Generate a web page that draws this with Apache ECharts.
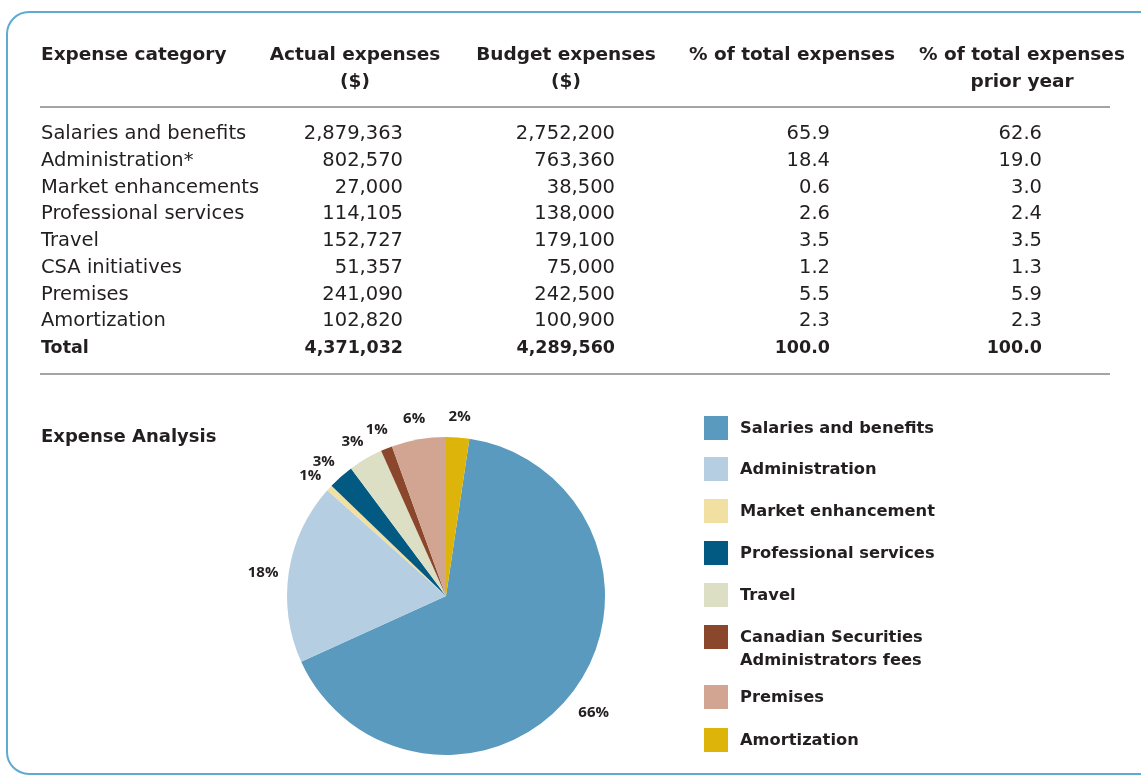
<!DOCTYPE html>
<html>
<head>
<meta charset="utf-8">
<script src="https://cdn.jsdelivr.net/npm/echarts@6/dist/echarts.min.js"></script>
<style>
  html, body { margin: 0; padding: 0; background: #ffffff; }
  #chart { width: 1141px; height: 776px; }
</style>
</head>
<body>
<div id="chart"></div>
<script>
// Expense table rows
const tableCategories = ['Salaries and benefits', 'Administration*', 'Market enhancements', 'Professional services', 'Travel', 'CSA initiatives', 'Premises', 'Amortization'];
const actualExpenses = [2879363, 802570, 27000, 114105, 152727, 51357, 241090, 102820];
const budgetExpenses = [2752200, 763360, 38500, 138000, 179100, 75000, 242500, 100900];
const pctOfTotal = ['65.9', '18.4', '0.6', '2.6', '3.5', '1.2', '5.5', '2.3'];
const pctPriorYear = ['62.6', '19.0', '3.0', '2.4', '3.5', '1.3', '5.9', '2.3'];
const pctTotals = ['100.0', '100.0'];

// Pie legend names (same order as the table rows)
const pieNames = ['Salaries and benefits', 'Administration', 'Market enhancement', 'Professional services', 'Travel', 'Canadian Securities\nAdministrators fees', 'Premises', 'Amortization'];
const pieColors = ['#5a9abf', '#b6cee1', '#f2dfa2', '#025a82', '#dcdfc4', '#8b472c', '#d1a592', '#ddb40a'];

const FONT = '"DejaVu Sans", "Open Sans", sans-serif';
const LABEL_FONT = '"Open Sans", sans-serif';
const INK = '#231f20';

function fmt(n) {
  return String(n).replace(/\B(?=(\d{3})+(?!\d))/g, ',');
}
const sum = a => a.reduce((s, v) => s + v, 0);

const graphic = [];
// rounded frame
graphic.push({
  type: 'rect', silent: true,
  shape: { x: 7, y: 12, width: 1160, height: 762, r: 22 },
  style: { fill: null, stroke: '#5faad2', lineWidth: 2 }
});

function txt(text, x, y, align, bold, size) {
  graphic.push({
    type: 'text', silent: true,
    style: {
      text: text, x: x, y: y,
      align: align, verticalAlign: 'middle',
      font: (bold ? 'bold ' : '') + size + 'px ' + FONT,
      fill: INK
    }
  });
}
function hline(y) {
  graphic.push({
    type: 'line', silent: true,
    shape: { x1: 40, y1: y, x2: 1110, y2: y },
    style: { stroke: '#4a4a4a', lineWidth: 1.2 }
  });
}

// header
const HEAD = 18.5, BODY = 19.5, TOT = 17.5;
txt('Expense category', 41, 55, 'left', true, HEAD);
txt('Actual expenses', 355, 55, 'center', true, HEAD);
txt('($)', 355, 82, 'center', true, HEAD);
txt('Budget expenses', 566, 55, 'center', true, HEAD);
txt('($)', 566, 82, 'center', true, HEAD);
txt('% of total expenses', 792, 55, 'center', true, HEAD);
txt('% of total expenses', 1022, 55, 'center', true, HEAD);
txt('prior year', 1022, 82, 'center', true, HEAD);
hline(107);

const rowY0 = 134, rowH = 26.75;
tableCategories.forEach((c, i) => {
  const y = rowY0 + i * rowH;
  txt(c, 41, y, 'left', false, BODY);
  txt(fmt(actualExpenses[i]), 403, y, 'right', false, BODY);
  txt(fmt(budgetExpenses[i]), 615, y, 'right', false, BODY);
  txt(pctOfTotal[i], 830, y, 'right', false, BODY);
  txt(pctPriorYear[i], 1042, y, 'right', false, BODY);
});
const totY = rowY0 + tableCategories.length * rowH;
txt('Total', 41, totY, 'left', true, TOT);
txt(fmt(sum(actualExpenses)), 403, totY, 'right', true, TOT);
txt(fmt(sum(budgetExpenses)), 615, totY, 'right', true, TOT);
txt(pctTotals[0], 830, totY, 'right', true, TOT);
txt(pctTotals[1], 1042, totY, 'right', true, TOT);
hline(374);

// pie title
txt('Expense Analysis', 41, 437, 'left', true, 18);

// legend
const legendY = [428, 469, 511, 553, 595, 637, 697, 740];
pieNames.forEach((n, i) => {
  graphic.push({
    type: 'rect', silent: true,
    shape: { x: 704, y: legendY[i] - 12, width: 24, height: 24 },
    style: { fill: pieColors[i] }
  });
  graphic.push({
    type: 'text', silent: true,
    style: {
      text: n, x: 740, y: legendY[i] - 11,
      align: 'left', verticalAlign: 'top',
      font: 'bold 16.3px ' + FONT, lineHeight: 23,
      fill: INK
    }
  });
});

// start so that the last slice (Amortization) ends at 12 o'clock
const total = sum(actualExpenses);
const startAngle = 90 - actualExpenses[actualExpenses.length - 1] / total * 360;

const chart = echarts.init(document.getElementById('chart'), null, { renderer: 'canvas' });
chart.setOption({
  animation: false,
  color: pieColors,
  graphic: graphic,
  series: [{
    type: 'pie',
    center: [446, 596],
    radius: 159,
    startAngle: startAngle,
    clockwise: true,
    avoidLabelOverlap: false,
    minShowLabelAngle: 0,
    silent: true,
    data: pieNames.map((n, i) => ({ name: n, value: actualExpenses[i] })),
    label: {
      show: true,
      position: 'outside',
      formatter: p => Math.round(p.percent) + '%',
      fontFamily: LABEL_FONT,
      fontWeight: 'bold',
      fontSize: 15,
      color: INK
    },
    labelLine: { show: false, length: 26, length2: 0 },
    // centre each percentage just below the end of its (hidden) leader line
    labelLayout: p => {
      const pts = p.labelLinePoints;
      if (!pts) return {};
      const end = pts[pts.length - 1];
      return { x: end[0], y: end[1] + 5, align: 'center', verticalAlign: 'middle', hideOverlap: false };
    }
  }]
});
</script>
</body>
</html>
